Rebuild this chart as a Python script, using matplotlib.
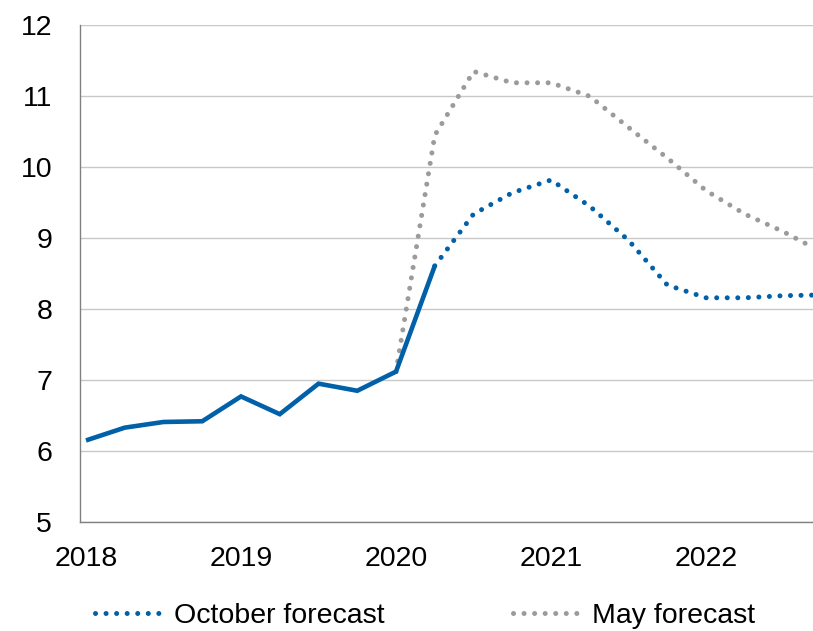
import matplotlib.pyplot as plt
import numpy as np

# Quarterly series, 2018Q1 .. 2022Q4
quarters = [f"{y}Q{q}" for y in range(2018, 2023) for q in range(1, 5)]
year_labels = ["2018", "2019", "2020", "2021", "2022"]

# Outturn up to 2020Q2
actual = [6.15, 6.33, 6.41, 6.42, 6.77, 6.52, 6.95, 6.85, 7.12, 8.61]

# October forecast, 2020Q2 onwards
october = [8.61, 9.34, 9.64, 9.82, 9.45, 8.97, 8.34, 8.16, 8.16, 8.19, 8.20]

# May forecast, 2020Q1 onwards
may = [7.12, 10.45, 11.35, 11.19, 11.19, 11.00, 10.56, 10.13, 9.67, 9.34,
       9.09, 8.80]

BLUE = "#0060A8"
GREY = "#9B9B9B"
FS = 20.5

plt.rcParams["font.family"] = ["Liberation Sans", "DejaVu Sans"]

fig = plt.figure(figsize=(8.13, 6.31), dpi=100)
ax = fig.add_axes([0.0984, 0.1727, 0.9016, 0.7872])

x_actual = np.arange(len(actual))
x_oct = np.arange(len(quarters) - len(october), len(quarters))
x_may = np.arange(len(quarters) - len(may), len(quarters))

dot = (0, (0.01, 2.1))
ax.plot(x_may, may, color=GREY, lw=3.6, linestyle=dot,
        dash_capstyle="round", label="May forecast", zorder=2)
ax.plot(x_oct, october, color=BLUE, lw=3.6, linestyle=dot,
        dash_capstyle="round", label="October forecast", zorder=3)
ax.plot(x_actual, actual, color=BLUE, lw=3.3, solid_joinstyle="miter",
        solid_capstyle="butt", zorder=4)

ax.set_xlim(-0.155, 18.76)
ax.set_ylim(5, 12)
ax.set_yticks(range(5, 13))
ax.set_xticks(range(0, len(quarters), 4))
ax.set_xticklabels(year_labels)
ax.tick_params(axis="both", length=0, labelsize=FS)
ax.tick_params(axis="y", pad=20)
ax.tick_params(axis="x", pad=17)

ax.grid(axis="y", color="#C8C8C8", lw=1)
ax.set_axisbelow(True)
for side in ("top", "right"):
    ax.spines[side].set_visible(False)
for side in ("left", "bottom"):
    ax.spines[side].set_color("#808080")
    ax.spines[side].set_linewidth(1)
    ax.spines[side].set_zorder(5)

handles, labels = ax.get_legend_handles_labels()
order = [1, 0]
fig.legend([handles[i] for i in order], [labels[i] for i in order],
           loc="lower left", bbox_to_anchor=(0.117, 0.003), ncol=2,
           frameon=False, fontsize=FS, handlelength=2.5, handletextpad=0.28,
           columnspacing=4.5, borderaxespad=0, borderpad=0)

fig.savefig("out.png", dpi=100)
